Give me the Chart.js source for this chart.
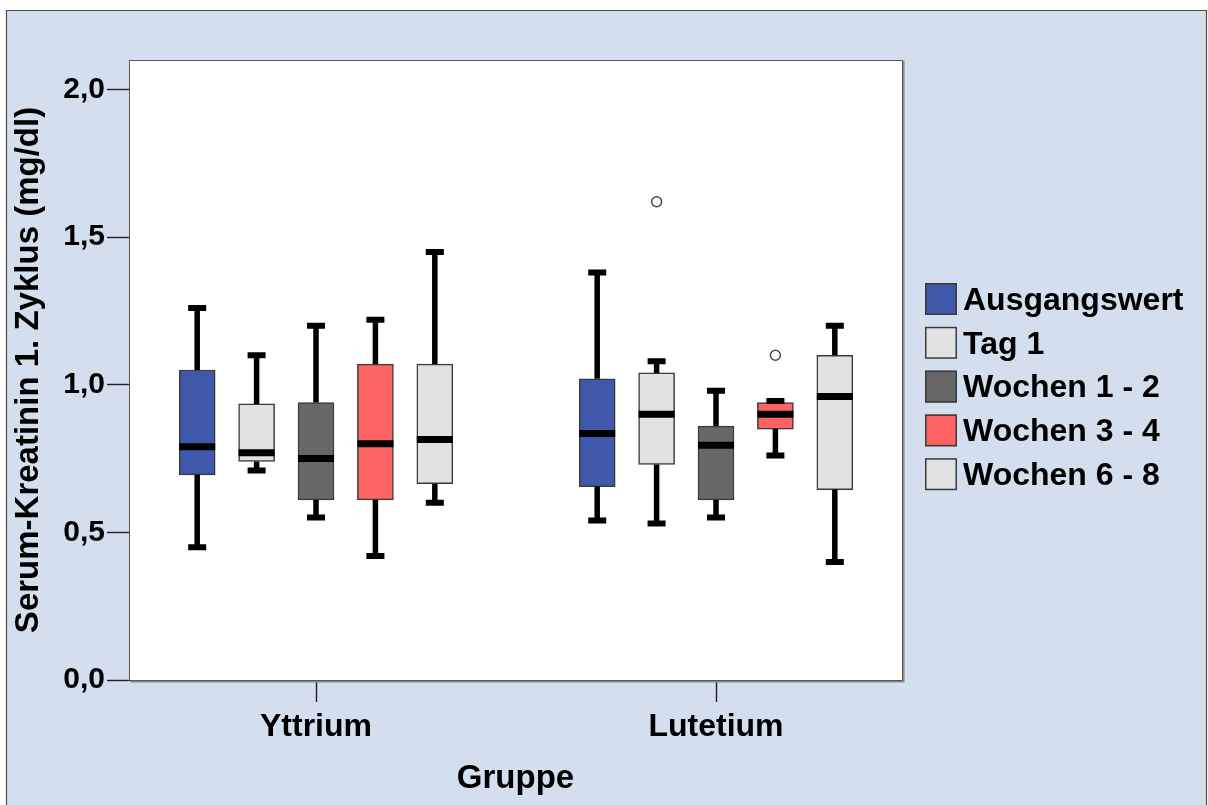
<!DOCTYPE html>
<html>
<head>
<meta charset="utf-8">
<script src="https://cdn.jsdelivr.net/npm/chart.js@4/dist/chart.umd.min.js"></script>
<style>
  html, body { margin: 0; padding: 0; background: #ffffff; }
  #wrap { position: relative; width: 1208px; height: 805px; }
</style>
</head>
<body>
<div id="wrap"><canvas id="c"></canvas></div>
<script>
// ---------- data ----------
const groups = ['Yttrium', 'Lutetium'];
const seriesNames = ['Ausgangswert', 'Tag 1', 'Wochen 1 - 2', 'Wochen 3 - 4', 'Wochen 6 - 8'];
const seriesColors = ['#3f58aa', '#e2e2e2', '#676767', '#fe6363', '#e2e2e2'];
// each row = one series, columns = [Yttrium, Lutetium]
const whiskerMin = [[0.45, 0.54], [0.71, 0.53], [0.55, 0.55], [0.42, 0.76], [0.60, 0.40]];
const quartile1  = [[0.695, 0.655], [0.74, 0.73], [0.61, 0.61], [0.61, 0.85], [0.665, 0.645]];
const medians    = [[0.79, 0.835], [0.77, 0.90], [0.75, 0.795], [0.80, 0.90], [0.815, 0.96]];
const quartile3  = [[1.05, 1.02], [0.935, 1.04], [0.94, 0.86], [1.07, 0.94], [1.07, 1.10]];
const whiskerMax = [[1.26, 1.38], [1.10, 1.08], [1.20, 0.98], [1.22, 0.945], [1.45, 1.20]];
// outliers: series index, group index, value
const outlierSeries = [1, 3];
const outlierGroups = [1, 1];
const outlierValues = [1.62, 1.10];
const yTickValues = [0, 0.5, 1.0, 1.5, 2.0];
const yTickLabels = ['0,0', '0,5', '1,0', '1,5', '2,0'];
const yAxisTitle = 'Serum-Kreatinin 1. Zyklus (mg/dl)';
const xAxisTitle = 'Gruppe';

// ---------- layout constants ----------
const SERIES_STEP = 0.1485;     // distance between neighbouring boxes (x units)
const BOX_PX = 36;
const CAP_PX = 18;
const FONT = '"Liberation Sans", Arial, Helvetica, sans-serif';
const xPos = (s, g) => g + (s - 2) * SERIES_STEP;

const barDatasets = seriesNames.map((name, s) => ({
  type: 'bar',
  label: name,
  data: groups.map((_, g) => ({ x: xPos(s, g), y: [quartile1[s][g], quartile3[s][g]] })),
  backgroundColor: seriesColors[s],
  borderColor: '#3a3a3a',
  borderWidth: 1.5,
  borderSkipped: false,
  barThickness: BOX_PX,
  grouped: false,
  order: 2
}));

const outlierDataset = {
  type: 'scatter',
  label: 'Ausreißer',
  data: outlierValues.map((v, i) => ({ x: xPos(outlierSeries[i], outlierGroups[i]), y: v })),
  pointStyle: 'circle',
  pointRadius: 5,
  pointBackgroundColor: '#ffffff',
  pointBorderColor: '#4a4a4a',
  pointBorderWidth: 1.5,
  order: 1
};

// ---------- plugins ----------
const backgroundPlugin = {
  id: 'bg',
  beforeDraw(chart) {
    const ctx = chart.ctx, ca = chart.chartArea;
    ctx.save();
    ctx.fillStyle = '#ffffff';
    ctx.fillRect(0, 0, chart.width, chart.height);
    ctx.fillStyle = '#d3dfee';
    ctx.fillRect(6, 10, 1201, chart.height - 10);
    ctx.strokeStyle = '#4d4d4d';
    ctx.lineWidth = 1.2;
    ctx.beginPath();
    ctx.moveTo(6.5, chart.height);
    ctx.lineTo(6.5, 10.5);
    ctx.lineTo(1206.5, 10.5);
    ctx.lineTo(1206.5, chart.height);
    ctx.stroke();
    ctx.fillStyle = '#ffffff';
    ctx.fillRect(ca.left, ca.top, ca.right - ca.left, ca.bottom - ca.top);
    ctx.restore();
  },
  afterDraw(chart) {
    const ctx = chart.ctx, ca = chart.chartArea;
    ctx.save();
    ctx.strokeStyle = '#555555';
    ctx.lineWidth = 1;
    ctx.strokeRect(ca.left + 0.5, ca.top + 0.5, ca.right - ca.left, ca.bottom - ca.top);
    ctx.strokeStyle = '#8a8a8a';
    ctx.lineWidth = 1.5;
    ctx.beginPath();
    ctx.moveTo(ca.right + 1.8, ca.top + 1);
    ctx.lineTo(ca.right + 1.8, ca.bottom + 1.8);
    ctx.lineTo(ca.left + 1, ca.bottom + 1.8);
    ctx.stroke();
    // legend
    const lx = 925, ly = 283, box = 32, pitch = 43.8;
    ctx.font = 'bold 32px ' + FONT;
    ctx.textBaseline = 'middle';
    ctx.textAlign = 'left';
    seriesNames.forEach((name, s) => {
      const y = ly + s * pitch;
      ctx.fillStyle = seriesColors[s];
      ctx.fillRect(lx, y, box, box);
      ctx.strokeStyle = '#3a3a3a';
      ctx.lineWidth = 1.5;
      ctx.strokeRect(lx + 0.75, y + 0.75, box - 1.5, box - 1.5);
      ctx.fillStyle = '#000000';
      ctx.fillText(name, lx + box + 6, y + box / 2 + 2);
    });
    ctx.restore();
  }
};

const whiskerPlugin = {
  id: 'whiskers',
  afterDatasetsDraw(chart) {
    const ctx = chart.ctx, xs = chart.scales.x, ys = chart.scales.y;
    ctx.save();
    ctx.strokeStyle = '#000000';
    ctx.lineCap = 'butt';
    seriesNames.forEach((_, s) => {
      groups.forEach((__, g) => {
        const cx = xs.getPixelForValue(xPos(s, g));
        const yMin = ys.getPixelForValue(whiskerMin[s][g]);
        const yQ1 = ys.getPixelForValue(quartile1[s][g]);
        const yMed = ys.getPixelForValue(medians[s][g]);
        const yQ3 = ys.getPixelForValue(quartile3[s][g]);
        const yMax = ys.getPixelForValue(whiskerMax[s][g]);
        ctx.lineWidth = 5.5;
        ctx.beginPath();
        ctx.moveTo(cx, yQ3); ctx.lineTo(cx, yMax);
        ctx.moveTo(cx, yQ1); ctx.lineTo(cx, yMin);
        ctx.stroke();
        ctx.lineWidth = 6;
        ctx.beginPath();
        ctx.moveTo(cx - CAP_PX / 2, yMax); ctx.lineTo(cx + CAP_PX / 2, yMax);
        ctx.moveTo(cx - CAP_PX / 2, yMin); ctx.lineTo(cx + CAP_PX / 2, yMin);
        ctx.stroke();
        ctx.lineWidth = 7;
        ctx.beginPath();
        ctx.moveTo(cx - BOX_PX / 2, yMed); ctx.lineTo(cx + BOX_PX / 2, yMed);
        ctx.stroke();
      });
    });
    ctx.restore();
  }
};

// ---------- chart ----------
new Chart(document.getElementById('c'), {
  type: 'bar',
  data: { datasets: [...barDatasets, outlierDataset] },
  options: {
    responsive: true,
    maintainAspectRatio: false,
    animation: false,
    devicePixelRatio: 1,
    layout: { padding: { left: 0, top: 60, right: 306, bottom: 0 } },
    plugins: { legend: { display: false }, tooltip: { enabled: false } },
    scales: {
      x: {
        type: 'linear',
        offset: false,
        min: -0.4675,
        max: 1.465,
        afterBuildTicks(scale) { scale.ticks = groups.map((_, i) => ({ value: i })); },
        afterFit(scale) { scale.height = 125; },
        ticks: {
          callback: (v) => groups[v] !== undefined ? groups[v] : '',
          font: { family: FONT, size: 32, weight: 'bold' },
          color: '#000000',
          padding: 6,
          maxRotation: 0,
          autoSkip: false
        },
        grid: { display: true, offset: false, drawOnChartArea: false, drawTicks: true, tickLength: 22, tickWidth: 1.4, tickColor: '#222222' },
        border: { display: true, color: '#333333', width: 1 },
        title: { display: true, text: xAxisTitle, color: '#000000', font: { family: FONT, size: 33, weight: 'bold' }, padding: 6 }
      },
      y: {
        type: 'linear',
        min: 0,
        max: 2.1,
        afterBuildTicks(scale) { scale.ticks = yTickValues.map(v => ({ value: v })); },
        afterFit(scale) { scale.width = 129; },
        ticks: {
          callback: (v) => { const i = yTickValues.indexOf(v); return i >= 0 ? yTickLabels[i] : ''; },
          font: { family: FONT, size: 30, weight: 'bold' },
          color: '#000000',
          padding: 2
        },
        grid: { display: true, drawOnChartArea: false, drawTicks: true, tickLength: 22, tickWidth: 1.4, tickColor: '#222222' },
        border: { display: true, color: '#333333', width: 1 },
        title: { display: true, text: yAxisTitle, color: '#000000', font: { family: FONT, size: 33, weight: 'bold' }, padding: 9 }
      }
    }
  },
  plugins: [backgroundPlugin, whiskerPlugin]
});
</script>
</body>
</html>
